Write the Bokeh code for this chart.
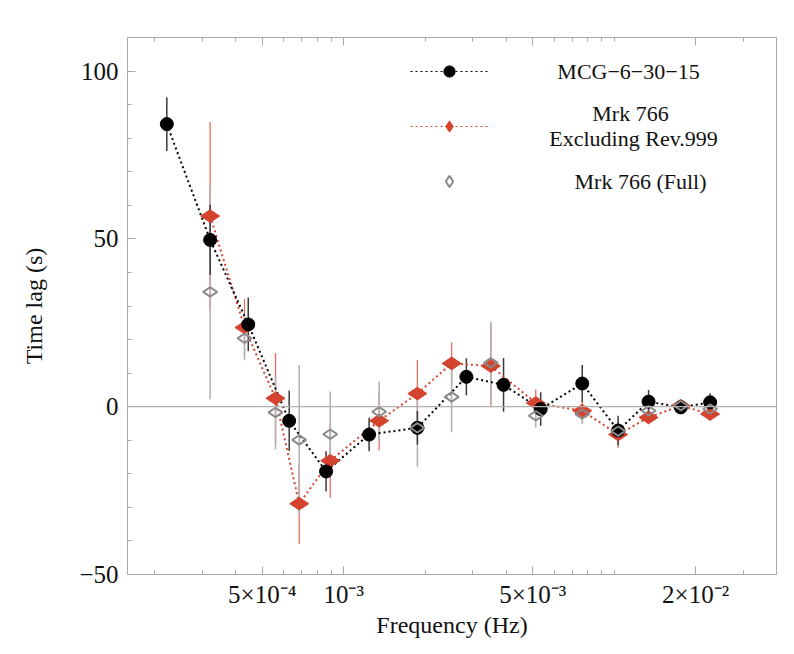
import numpy as np
from bokeh.plotting import figure
from bokeh.models import (ColumnDataSource, FixedTicker, LogAxis, Range1d, Span,
                          Label, Legend, LegendItem)
from bokeh.embed import file_html
from bokeh.resources import INLINE

# ---------------- data ----------------
mcg_freq = [2.22e-4, 3.21e-4, 4.44e-4, 6.29e-4, 8.61e-4, 1.242e-3, 1.873e-3, 2.842e-3,
            3.90e-3, 5.35e-3, 7.62e-3, 1.034e-2, 1.34e-2, 1.763e-2, 2.263e-2]
mcg_lag = [84.2, 49.7, 24.5, -4.2, -19.3, -8.3, -6.3, 8.9, 6.5, -0.7, 6.9, -7.1, 1.5, -0.2, 1.3]
mcg_err = [8.0, 10.5, 8.0, 9.0, 6.0, 5.0, 5.0, 5.5, 8.0, 5.0, 5.5, 4.4, 3.5, 2.0, 2.7]

mrk_freq = [3.21e-4, 4.30e-4, 5.60e-4, 6.85e-4, 8.92e-4, 1.353e-3, 1.873e-3, 2.507e-3,
            3.50e-3, 5.13e-3, 7.62e-3, 1.034e-2, 1.34e-2, 1.763e-2, 2.263e-2]
mrk_ex_lag = [56.8, 23.6, 2.5, -28.9, -16.1, -4.2, 3.9, 12.9, 12.1, 1.1, -1.2, -8.3, -3.2, 0.3, -2.2]
mrk_ex_err = [28.0, 8.5, 13.5, 12.0, 11.0, 8.8, 10.0, 6.3, 12.3, 4.0, 3.0, 4.0, 2.0, 1.5, 1.5]
mrk_full_lag = [34.2, 20.4, -1.7, -9.9, -8.2, -1.5, -6.3, 2.9, 13.1, -2.7, -2.2, -7.3, -1.2, 0.3, -0.7]
mrk_full_err = [32.0, 6.6, 11.0, 22.3, 12.7, 9.0, 11.6, 10.5, 12.3, 3.5, 3.0, 3.0, 2.0, 1.5, 1.5]

series_names = ["MCG\u22126\u221230\u221215", "Mrk 766", "Excluding Rev.999", "Mrk 766 (Full)"]

x_major = [5e-4, 1e-3, 5e-3, 2e-2]
x_labels = ["5\u00d710\u207b\u2074", "10\u207b\u00b3", "5\u00d710\u207b\u00b3", "2\u00d710\u207b\u00b2"]
x_minor = [2e-4, 3e-4, 4e-4, 6e-4, 7e-4, 8e-4, 9e-4,
           2e-3, 3e-3, 4e-3, 6e-3, 7e-3, 8e-3, 9e-3, 1e-2, 3e-2, 4e-2]
y_major = [-50, 0, 50, 100]
y_labels = ["\u221250", "0", "50", "100"]
y_minor = [-40, -30, -20, -10, 10, 20, 30, 40, 60, 70, 80, 90, 110]

FONT = "Liberation Serif"
RED = "#d4432e"
RED_BAR = "#e8705f"
GREY = "#8a8a8a"
GREY_BAR = "#b0b0b0"
BLACK_BAR = "#3a3a3a"
AX = "#a8a8a8"

def src(f, v, e):
    v = np.array(v); e = np.array(e)
    return ColumnDataSource(dict(x=f, y=v, lo=v - e, hi=v + e))

s_mcg = src(mcg_freq, mcg_lag, mcg_err)
s_ex = src(mrk_freq, mrk_ex_lag, mrk_ex_err)
s_full = src(mrk_freq, mrk_full_lag, mrk_full_err)

p = figure(x_axis_type="log", output_backend="svg", toolbar_location=None,
           x_range=Range1d(10 ** -3.799, 10 ** -1.40), y_range=Range1d(-50, 110),
           frame_width=649, frame_height=537,
           min_border_left=127, min_border_right=2, min_border_top=37, min_border_bottom=64,
           background_fill_color="white", border_fill_color="white")
p.grid.visible = False
p.outline_line_color = AX
p.outline_line_width = 1

# zero line
p.add_layout(Span(location=0, dimension="width", line_color="#b0b0b0", line_width=1.2))

# error bars
p.segment("x", "lo", "x", "hi", source=s_ex, line_color=RED_BAR, line_width=1.3)
p.segment("x", "lo", "x", "hi", source=s_full, line_color=GREY_BAR, line_width=1.5)
p.segment("x", "lo", "x", "hi", source=s_mcg, line_color=BLACK_BAR, line_width=1.5)

# connecting dotted lines
p.line("x", "y", source=s_ex, line_color=RED, line_width=2, line_dash="2 3")
p.line("x", "y", source=s_mcg, line_color="black", line_width=2, line_dash="2 3")

# markers
p.scatter("x", "y", source=s_ex, marker="diamond", size=19, angle=np.pi / 2,
          fill_color=RED, line_color=RED)
p.scatter("x", "y", source=s_mcg, marker="circle", size=13, fill_color="black", line_color="black")
p.scatter("x", "y", source=s_full, marker="diamond", size=14, angle=np.pi / 2,
          fill_color=None, line_color=GREY, line_width=2)

# axes
xt = FixedTicker(ticks=x_major, minor_ticks=x_minor)
yt = FixedTicker(ticks=y_major, minor_ticks=y_minor)
for ax in [p.xaxis[0], p.yaxis[0]]:
    ax.axis_line_color = AX
    ax.major_tick_line_color = AX
    ax.minor_tick_line_color = AX
    ax.major_tick_in = 8
    ax.major_tick_out = 0
    ax.minor_tick_in = 4
    ax.minor_tick_out = 0
    ax.major_label_text_font = FONT
    ax.major_label_text_font_size = "25px"
    ax.major_label_text_color = "#111111"
    ax.axis_label_text_font = FONT
    ax.axis_label_text_font_size = "24px"
    ax.axis_label_text_font_style = "normal"
    ax.axis_label_text_color = "#111111"

p.xaxis.ticker = xt
p.xaxis.major_label_overrides = {t: l for t, l in zip(x_major, x_labels)}
p.xaxis.major_label_standoff = 6
p.xaxis.axis_label = "Frequency (Hz)"
p.xaxis.axis_label_standoff = 1

p.yaxis.ticker = yt
p.yaxis.major_label_overrides = {t: l for t, l in zip(y_major, y_labels)}
p.yaxis.major_label_standoff = 9
p.yaxis.axis_label = "Time lag (s)"
p.yaxis.axis_label_standoff = 29

top = LogAxis(ticker=xt, axis_line_color=AX, major_tick_line_color=AX,
              minor_tick_line_color=AX, major_tick_in=8, major_tick_out=0,
              minor_tick_in=4, minor_tick_out=0, major_label_text_color=None,
              major_label_standoff=0)
p.add_layout(top, "above")

# legend samples (one NaN point each: nothing drawn in the plot itself)
e1 = ColumnDataSource(dict(x=[np.nan], y=[np.nan]))
e2 = ColumnDataSource(dict(x=[np.nan], y=[np.nan]))
e3 = ColumnDataSource(dict(x=[np.nan], y=[np.nan]))
la = p.line("x", "y", source=e1, line_color="black", line_width=1, line_dash="2 3")
ma = p.scatter("x", "y", source=e1, marker="circle", size=12, fill_color="black", line_color="black")
lb = p.line("x", "y", source=e2, line_color=RED, line_width=1, line_dash="2 3")
mb = p.scatter("x", "y", source=e2, marker="diamond", size=15, angle=np.pi / 2,
               fill_color=RED, line_color=RED)
mc = p.scatter("x", "y", source=e3, marker="diamond", size=11, angle=np.pi / 2,
               fill_color=None, line_color=GREY, line_width=2)

legend = Legend(items=[LegendItem(label=" ", renderers=[la, ma]),
                       LegendItem(label=" ", renderers=[lb, mb]),
                       LegendItem(label=" ", renderers=[mc])],
                location=(283, 379), glyph_width=78, glyph_height=28, spacing=27,
                padding=0, margin=0, label_standoff=0, label_width=1, label_height=28,
                label_text_color=None, label_text_font_size="10px",
                background_fill_alpha=0, border_line_alpha=0)
p.add_layout(legend, "center")

label_pos = [(501, 503), (503, 461), (506, 436), (513, 393)]
for txt, (lx, ly) in zip(series_names, label_pos):
    p.add_layout(Label(x=lx, y=ly, x_units="screen", y_units="screen", text=txt,
                       text_font=FONT, text_font_size="22px", text_color="#111111",
                       text_align="center", text_baseline="middle"))

open("out.html", "w").write(file_html(p, INLINE))
